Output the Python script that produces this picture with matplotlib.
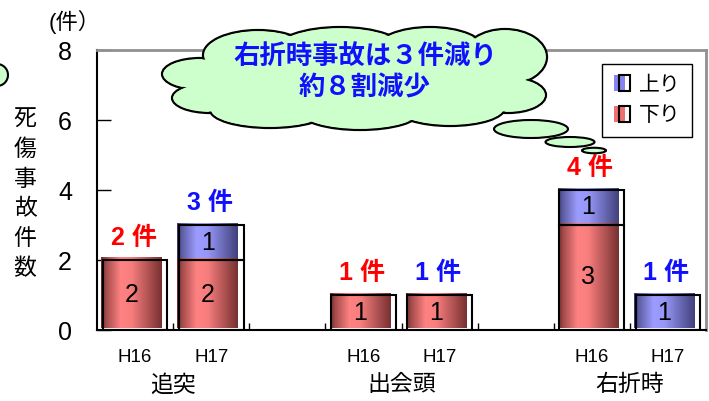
import numpy as np
import matplotlib
matplotlib.use("Agg")
import matplotlib.pyplot as plt
from matplotlib.patches import Ellipse, Patch, Rectangle
from matplotlib.legend_handler import HandlerBase
from matplotlib.transforms import blended_transform_factory

plt.rcParams['font.family'] = ['Liberation Sans', 'Noto Sans CJK JP']

# 事故類型別の死傷事故件数（H16 / H17）
groups = ['追突', '出会頭', '右折時']
years = ['H16', 'H17']
down = [2, 2, 1, 1, 3, 0]   # 下り
up = [0, 1, 0, 0, 1, 1]     # 上り
y_ticks = [0, 2, 4, 6, 8]
cloud_text = ['右折時事故は３件減り', '約８割減少']

W, H = 709, 401
fig = plt.figure(figsize=(W / 100, H / 100), dpi=100)
ax = fig.add_axes([97 / W, (H - 330) / H, (706 - 97) / W, 280 / H])

RED_DARK, RED_LIGHT = np.array([0x70, 0x2c, 0x2c]), np.array([0xff, 0x82, 0x82])
BLUE_DARK, BLUE_LIGHT = np.array([0x3c, 0x3c, 0x74]), np.array([0x9c, 0x9c, 0xff])


def gradient(dark, light):
    t = np.linspace(0, 1, 120)
    w = np.interp(t, [0, 0.08, 0.32, 0.5, 1.0], [0.0, 0.35, 1.0, 0.95, 0.05])
    rgb = dark[None, :] + (light - dark)[None, :] * w[:, None]
    return (rgb / 255.0)[None, :, :]


red_img = gradient(RED_DARK, RED_LIGHT)
blue_img = gradient(BLUE_DARK, BLUE_LIGHT)

n_years = len(years)
pos = np.array([g * (n_years + 1) + k + 0.5 for g in range(len(groups)) for k in range(n_years)])
down = np.array(down)
up = np.array(up)
total = down + up
bw = 0.85
dx, dy = 0.02, 0.06

segments = [(down, np.zeros_like(down), red_img), (up, down, blue_img)]
for vals, bottoms, img in segments:
    m = vals > 0
    for x, v, b in zip(pos[m], vals[m], bottoms[m]):
        x0 = x - bw / 2 - dx
        ax.imshow(img, extent=(x0, x0 + 0.8, b + dy, b + v + dy),
                  aspect='auto', interpolation='bilinear', zorder=2)
        ax.text(x0 + 0.4, b + v / 2, str(v), ha='center', va='center',
                fontsize=18, color='black', zorder=4)
    ax.bar(pos[m], vals[m], bottom=bottoms[m], width=bw, facecolor='none',
           edgecolor='black', linewidth=1.5, zorder=3)

for i, (x, t) in enumerate(zip(pos, total)):
    col = '#ff0000' if i % 2 == 0 else '#1010ff'
    ax.text(x - dx, t + 0.28, f'{t} 件', ha='center', va='bottom',
            fontsize=18, fontweight='bold', color=col, zorder=4)

n_slots = len(groups) * (n_years + 1) - 1
ax.set_xlim(0, n_slots)
ax.set_ylim(0, 8)

ax.set_xticks(pos, [years[i % n_years] for i in range(len(pos))])
ax.set_xticks(np.arange(1, n_slots), minor=True)
ax.tick_params(axis='x', which='major', length=0, pad=14, labelsize=13.5)
ax.tick_params(axis='x', which='minor', direction='in', length=5, width=1)
ax.set_yticks(y_ticks)
ax.tick_params(axis='y', direction='in', length=10, width=1, pad=18, labelsize=18)

for s in ['left', 'bottom']:
    ax.spines[s].set_color('black')
    ax.spines[s].set_linewidth(1.5)
for s in ['top', 'right']:
    ax.spines[s].set_color('#909090')
    ax.spines[s].set_linewidth(2)

trans = blended_transform_factory(ax.transData, ax.transAxes)
for g, name in enumerate(groups):
    ax.text(g * (n_years + 1) + n_years / 2, -0.196, name, transform=trans,
            ha='center', va='center', fontsize=16.5)

fig.text(25 / W, 1 - 194 / H, '\n'.join('死傷事故件数'), ha='center', va='center',
         fontsize=16.5, linespacing=1.38)
fig.text(75 / W, 1 - 22 / H, '(件）', ha='center', va='center', fontsize=16)


class SwatchHandler(HandlerBase):
    def create_artists(self, legend, orig_handle, xdescent, ydescent,
                       width, height, fontsize, trans):
        fill = Rectangle((-xdescent, -ydescent), width * 0.65, height,
                         facecolor=orig_handle.get_facecolor(), edgecolor='none',
                         transform=trans)
        box = Rectangle((-xdescent + width * 0.3, -ydescent), width * 0.7, height,
                        fill=False, edgecolor='black', linewidth=1.5, transform=trans)
        return [fill, box]


handles = [Patch(facecolor='#8585f0'), Patch(facecolor='#f07070')]
leg = ax.legend(handles, ['上り', '下り'], handler_map={Patch: SwatchHandler()},
                loc='upper right', bbox_to_anchor=(692 / W, 1 - 64 / H),
                bbox_transform=fig.transFigure, borderaxespad=0, fontsize=15,
                handlelength=0.8, handleheight=0.8, handletextpad=0.4,
                labelspacing=0.55, borderpad=0.55, fancybox=False, framealpha=1)
leg.get_frame().set_edgecolor('black')
leg.get_frame().set_linewidth(1)

# 吹き出し（雲形）
ov = fig.add_axes([0, 0, 1, 1], zorder=5)
ov.set_xlim(0, W)
ov.set_ylim(H, 0)
ov.axis('off')
ov.patch.set_alpha(0)

green = '#ccffcc'
lobes = [(200, 74, 76, 32), (210, 98, 76, 30), (258, 55, 110, 50),
         (340, 50, 130, 46), (430, 50, 110, 46), (505, 57, 84, 56),
         (508, 95, 76, 36), (270, 110, 120, 36), (360, 112, 120, 36),
         (450, 108, 110, 36), (355, 78, 300, 80)]
for cx, cy, w, h in lobes:
    ov.add_patch(Ellipse((cx, cy), w, h, facecolor=green, edgecolor='black',
                         linewidth=1.6, zorder=1))
for cx, cy, w, h in lobes:
    ov.add_patch(Ellipse((cx, cy), w - 3, h - 3, facecolor=green,
                         edgecolor='none', zorder=2))
for cx, cy, w, h in [(531, 129, 74, 18), (570, 142, 49, 10), (594, 150.5, 24, 5.5),
                     (-3, 75, 22, 22)]:
    ov.add_patch(Ellipse((cx, cy), w, h, facecolor=green, edgecolor='black',
                         linewidth=1.5, zorder=3))

ov.text(365, 57, cloud_text[0], ha='center', va='center', fontsize=19,
        fontweight='bold', color='#1010ff', zorder=4)
ov.text(365, 88, cloud_text[1], ha='center', va='center', fontsize=19,
        fontweight='bold', color='#1010ff', zorder=4)

fig.savefig('out.png', dpi=100)
